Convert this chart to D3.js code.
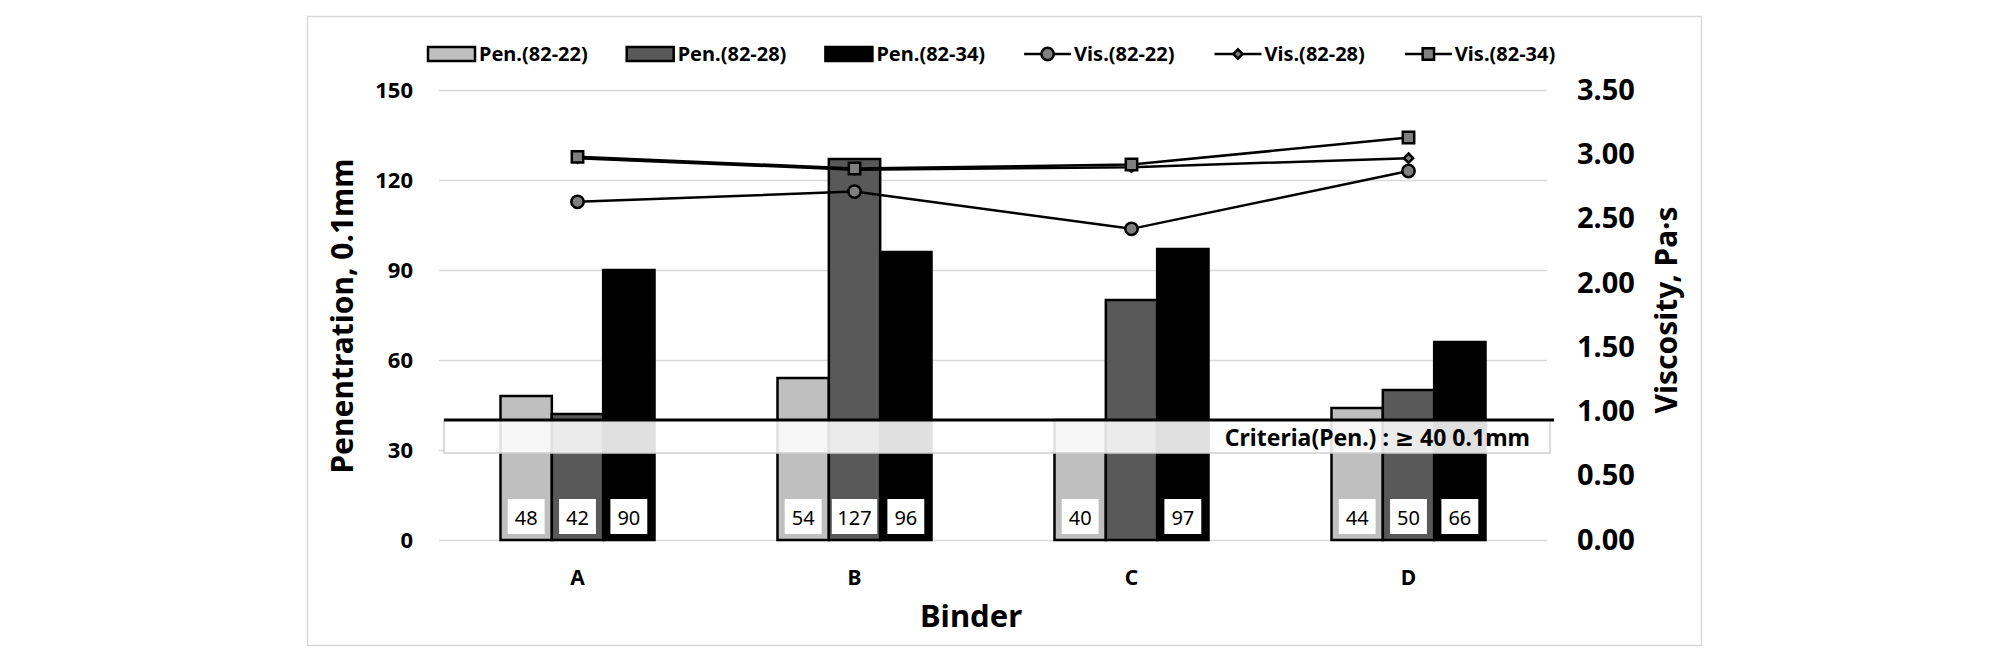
<!DOCTYPE html>
<html>
<head>
<meta charset="utf-8">
<script src="https://cdn.jsdelivr.net/npm/d3@7/dist/d3.min.js"></script>
<style>
    body { margin: 0; background: #fff; }
    svg { display: block; font-family: "Noto Sans", "DejaVu Sans", sans-serif; }
</style>
</head>
<body>
<svg id="chart" width="2008" height="654"></svg>
<script>
var binders    = ['A', 'B', 'C', 'D'];
var penSeries  = ['Pen.(82-22)', 'Pen.(82-28)', 'Pen.(82-34)'];
var penValues  = [
    [48, 54, 40, 44],
    [42, 127, 80, 50],
    [90, 96, 97, 66]
];
// value boxes shown at the bar bases (the C / 82-28 bar has none)
var penLabels  = [
    [48, 54, 40, 44],
    [42, 127, null, 50],
    [90, 96, 97, 66]
];
var visSeries  = ['Vis.(82-22)', 'Vis.(82-28)', 'Vis.(82-34)'];
var visValues  = [
    [2.63, 2.71, 2.42, 2.87],
    [2.97, 2.88, 2.90, 2.97],
    [2.98, 2.89, 2.92, 3.13]
];
var penTicks   = [0, 30, 60, 90, 120, 150];
var visTicks   = [0, 0.5, 1, 1.5, 2, 2.5, 3, 3.5];
var criteria   = 40;
var criteriaText = 'Criteria(Pen.) : \u2265 40 0.1mm';

(function (d3) {
    'use strict';

    var svg = d3.select('#chart'),
        left = 439, right = 1547, top = 90, bottom = 540,
        barFill = ['#bfbfbf', '#595959', '#000000'],
        markers = [d3.symbolCircle, d3.symbolDiamond2, d3.symbolSquare],
        markerSize = [120, 55, 130];

    var x0 = d3.scaleBand().domain(binders).range([left, right]),
        groupW = x0.bandwidth() * 0.556,
        x1 = d3.scaleBand().domain(d3.range(penSeries.length)).range([0, groupW]),
        y = d3.scaleLinear().domain([0, 150]).range([bottom, top]),
        y2 = d3.scaleLinear().domain([0, 3.5]).range([bottom, top]);

    function barX(cat, i) {
        return x0(cat) + (x0.bandwidth() - groupW) / 2 + x1(i);
    }
    function center(cat) {
        return x0(cat) + x0.bandwidth() / 2;
    }

    // chart frame
    svg.append('rect')
        .attr('x', 307.5).attr('y', 16.5)
        .attr('width', 1394).attr('height', 629)
        .attr('fill', '#fff').attr('stroke', '#d9d9d9').attr('stroke-width', 1.5);

    // gridlines
    var grid = svg.append('g')
        .attr('transform', 'translate(' + left + ',0)')
        .call(d3.axisLeft(y).tickValues(penTicks).tickSize(-(right - left)).tickFormat(''));
    grid.select('.domain').remove();
    grid.selectAll('line').attr('stroke', '#d9d9d9').attr('stroke-width', 1.5);

    // left axis labels
    var yAxis = svg.append('g')
        .attr('transform', 'translate(' + left + ',0)')
        .call(d3.axisLeft(y).tickValues(penTicks).tickSize(0).tickPadding(26));
    yAxis.select('.domain').remove();
    yAxis.selectAll('text')
        .attr('font-family', '"Noto Sans", sans-serif')
        .attr('font-size', 22).attr('font-weight', 'bold').attr('fill', '#000');

    // right axis labels
    var y2Axis = svg.append('g')
        .attr('transform', 'translate(' + right + ',0)')
        .call(d3.axisRight(y2).tickValues(visTicks).tickSize(0).tickPadding(30).tickFormat(d3.format('.2f')));
    y2Axis.select('.domain').remove();
    y2Axis.selectAll('text')
        .attr('font-family', '"Noto Sans", sans-serif')
        .attr('font-size', 29).attr('font-weight', 'bold').attr('fill', '#000');

    // category labels
    var xAxis = svg.append('g')
        .attr('transform', 'translate(0,' + bottom + ')')
        .call(d3.axisBottom(x0).tickSize(0).tickPadding(30));
    xAxis.select('.domain').remove();
    xAxis.selectAll('text')
        .attr('font-family', '"Noto Sans", sans-serif')
        .attr('font-size', 21).attr('font-weight', 'bold').attr('fill', '#000');

    // bars
    penSeries.forEach(function (name, i) {
        svg.append('g').selectAll('rect')
            .data(binders)
            .enter().append('rect')
            .attr('x', function (d) { return barX(d, i); })
            .attr('y', function (d, j) { return y(penValues[i][j]); })
            .attr('width', x1.bandwidth())
            .attr('height', function (d, j) { return y(0) - y(penValues[i][j]); })
            .attr('fill', barFill[i])
            .attr('stroke', '#000')
            .attr('stroke-width', 2.5);
    });

    // criteria band
    svg.append('rect')
        .attr('x', 444).attr('y', y(criteria))
        .attr('width', 1106).attr('height', y(29) - y(criteria))
        .attr('fill', '#fff').attr('fill-opacity', 0.88)
        .attr('stroke', '#d0d0d0').attr('stroke-width', 1.5);
    svg.append('line')
        .attr('x1', 444).attr('x2', 1554)
        .attr('y1', y(criteria)).attr('y2', y(criteria))
        .attr('stroke', '#000').attr('stroke-width', 3);
    svg.append('text')
        .attr('x', 1530).attr('y', 446)
        .attr('text-anchor', 'end')
        .attr('font-size', 23).attr('font-weight', 'bold')
        .text(criteriaText);

    // value boxes at bar bases
    penSeries.forEach(function (name, i) {
        binders.forEach(function (cat, j) {
            var v = penLabels[i][j], g, t, w, cx;
            if (v === null) {
                return;
            }
            cx = barX(cat, i) + x1.bandwidth() / 2;
            g = svg.append('g');
            t = g.append('text')
                .attr('x', cx).attr('y', y(0) - 15)
                .attr('text-anchor', 'middle')
                .attr('font-size', 20)
                .text(v);
            w = Math.min(t.node().getComputedTextLength() + 14, x1.bandwidth() - 6);
            g.insert('rect', 'text')
                .attr('x', cx - w / 2).attr('y', y(0) - 41)
                .attr('width', w).attr('height', 35)
                .attr('fill', '#fff');
        });
    });

    // viscosity lines
    var line = d3.line()
        .x(function (d, j) { return center(binders[j]); })
        .y(function (d) { return y2(d); });

    visSeries.forEach(function (name, i) {
        var g = svg.append('g');
        g.append('path')
            .attr('d', line(visValues[i]))
            .attr('fill', 'none').attr('stroke', '#000').attr('stroke-width', 2.5);
        g.selectAll('path.marker')
            .data(visValues[i])
            .enter().append('path')
            .attr('class', 'marker')
            .attr('transform', function (d, j) {
                return 'translate(' + center(binders[j]) + ',' + y2(d) + ')';
            })
            .attr('d', d3.symbol().type(markers[i]).size(markerSize[i]))
            .attr('fill', '#7f7f7f').attr('stroke', '#000').attr('stroke-width', 2.5);
    });

    // legend
    var lx = 428, ly = 54;
    penSeries.forEach(function (name, i) {
        var t;
        svg.append('rect')
            .attr('x', lx).attr('y', ly - 7)
            .attr('width', 47).attr('height', 14)
            .attr('fill', barFill[i]).attr('stroke', '#000').attr('stroke-width', 2.5);
        t = svg.append('text')
            .attr('x', lx + 51).attr('y', ly + 7)
            .attr('font-size', 20).attr('font-weight', 'bold')
            .text(name);
        lx += 51 + t.node().getComputedTextLength() + 39;
    });
    visSeries.forEach(function (name, i) {
        var t;
        svg.append('line')
            .attr('x1', lx).attr('x2', lx + 47)
            .attr('y1', ly).attr('y2', ly)
            .attr('stroke', '#000').attr('stroke-width', 2.5);
        svg.append('path')
            .attr('transform', 'translate(' + (lx + 23.5) + ',' + ly + ')')
            .attr('d', d3.symbol().type(markers[i]).size(markerSize[i]))
            .attr('fill', '#7f7f7f').attr('stroke', '#000').attr('stroke-width', 2.5);
        t = svg.append('text')
            .attr('x', lx + 50).attr('y', ly + 7)
            .attr('font-size', 20).attr('font-weight', 'bold')
            .text(name);
        lx += 50 + t.node().getComputedTextLength() + 40;
    });

    // axis titles
    svg.append('text')
        .attr('transform', 'translate(353,316) rotate(-90)')
        .attr('text-anchor', 'middle')
        .attr('font-size', 30).attr('font-weight', 'bold')
        .text('Penentration, 0.1mm');
    svg.append('text')
        .attr('transform', 'translate(1677,310) rotate(-90)')
        .attr('text-anchor', 'middle')
        .attr('font-size', 30).attr('font-weight', 'bold')
        .text('Viscosity, Pa\u00b7s');
    svg.append('text')
        .attr('x', 971).attr('y', 627)
        .attr('text-anchor', 'middle')
        .attr('font-size', 31).attr('font-weight', 'bold')
        .text('Binder');
}(window.d3));
</script>
</body>
</html>
